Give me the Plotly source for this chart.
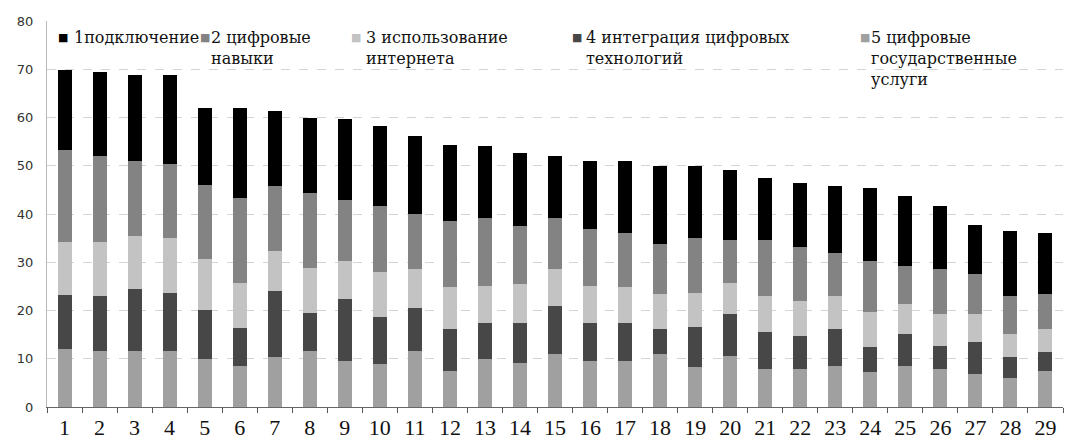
import plotly.graph_objects as go

# Regions 1..29, five index components stacked per region
regions = [str(i) for i in range(1, 30)]

s1_connection = [16.6, 17.5, 17.9, 18.5, 15.9, 18.7, 15.5, 15.5, 16.6, 16.6,
                 16.2, 15.9, 14.8, 15.2, 12.8, 14.1, 14.8, 16.2, 14.8, 14.5,
                 12.8, 13.3, 13.8, 15.1, 14.4, 13.0, 10.3, 13.4, 12.7]
s2_skills = [19.2, 17.9, 15.4, 15.2, 15.5, 17.5, 13.4, 15.5, 12.7, 13.7,
             11.3, 13.7, 14.1, 12.0, 10.6, 11.7, 11.3, 10.3, 11.4, 8.9,
             11.7, 11.1, 9.0, 10.7, 8.0, 9.3, 8.2, 7.9, 7.3]
s3_internet = [10.8, 11.1, 11.1, 11.4, 10.4, 9.4, 8.4, 9.4, 7.9, 9.3,
               8.0, 8.7, 7.6, 8.0, 7.6, 7.6, 7.3, 7.3, 7.2, 6.5,
               7.5, 7.2, 6.9, 7.2, 6.2, 6.6, 5.9, 4.8, 4.8]
s4_integration = [11.3, 11.3, 12.7, 12.0, 10.3, 7.8, 13.7, 7.8, 12.8, 9.7,
                  8.9, 8.6, 7.6, 8.3, 10.0, 7.9, 7.9, 5.1, 8.3, 8.7,
                  7.6, 6.9, 7.5, 5.2, 6.5, 4.8, 6.6, 4.2, 3.8]
s5_gov_services = [12.0, 11.7, 11.7, 11.7, 9.9, 8.6, 10.3, 11.7, 9.6, 8.9,
                   11.7, 7.5, 9.9, 9.2, 11.0, 9.6, 9.6, 11.0, 8.2, 10.6,
                   7.9, 7.9, 8.6, 7.2, 8.6, 7.9, 6.8, 6.1, 7.5]

series_names = ["1подключение", "2 цифровые<br>навыки",
                "3 использование<br>интернета",
                "4 интеграция цифровых<br>технологий",
                "5 цифровые<br>государственные<br>услуги"]
series_values = [s1_connection, s2_skills, s3_internet, s4_integration, s5_gov_services]
series_colors = ["#000000", "#838383", "#c3c3c3", "#474747", "#a0a0a0"]

fig = go.Figure()
# stacked bottom-up: component 5 first, component 1 on top
for name, vals, col in reversed(list(zip(series_names, series_values, series_colors))):
    fig.add_trace(go.Bar(x=regions, y=vals, name=name.replace("<br>", " "),
                         marker=dict(color=col, line=dict(width=0))))

# legend drawn as text inside the plot area
L, R, T, B = 47, 1063, 20.5, 407.0
def px_x(p):
    return (p - L) / (R - L)
def px_y(p):
    return (B - p) / (B - T)

legend_pos = [(56, 72), (198, 209), (349, 364), (570, 584), (858, 869)]
for (sq_x, tx_x), name, col in zip(legend_pos, series_names, series_colors):
    fig.add_annotation(x=px_x(sq_x), y=px_y(37), xref="paper", yref="paper",
                       text="■", showarrow=False, xanchor="left", yanchor="middle",
                       font=dict(size=11, color=col, family="DejaVu Sans"))
    fig.add_annotation(x=px_x(tx_x), y=px_y(26), xref="paper", yref="paper",
                       text=name, showarrow=False, xanchor="left", yanchor="top",
                       align="left",
                       font=dict(size=16, color="#111111", family="DejaVu Serif"))

fig.update_layout(
    barmode="stack",
    bargap=0.6,
    width=1070, height=443,
    margin=dict(l=L, r=1070 - R, t=T, b=443 - B),
    paper_bgcolor="white", plot_bgcolor="white",
    showlegend=False,
)
fig.update_xaxes(
    type="category", tickson="boundaries", ticks="outside", ticklen=5,
    tickcolor="#555555", showline=True, linecolor="#666666", linewidth=1,
    showgrid=False, ticklabelstandoff=1, automargin=False,
    tickfont=dict(size=22, family="Liberation Serif", color="#111111"),
)
fig.update_yaxes(
    range=[0, 80], dtick=10, showline=True, linecolor="#bbbbbb",
    showgrid=True, gridcolor="#d4d4d4", griddash="dash", zeroline=False,
    ticks="", ticklabelstandoff=10, automargin=False,
    tickfont=dict(size=13, family="DejaVu Sans", color="#333333"),
)

fig.write_html("out.html")
